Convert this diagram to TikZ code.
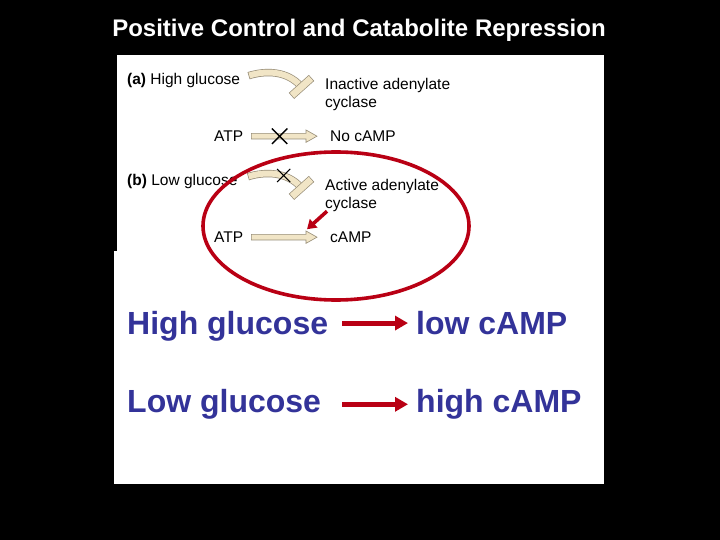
\documentclass[tikz,border=0pt]{standalone}
\usepackage{fontspec}
\setmainfont{Liberation Sans}
\usetikzlibrary{arrows.meta,calc,shapes.misc}
\definecolor{slideBlue}{RGB}{51,51,153}
\definecolor{markRed}{RGB}{185,0,20}
\definecolor{pathFill}{RGB}{241,229,198}
\definecolor{pathEdge}{RGB}{150,140,118}
\tikzset{
    txt/.style={anchor=base west,inner sep=0pt,font=\fontsize{15.5}{18}\selectfont},
    enz/.style={anchor=north west,inner sep=0pt,align=left,font=\fontsize{15.5}{18}\selectfont},
    big/.style={anchor=base west,inner sep=0pt,text=slideBlue,font=\fontsize{32}{36}\selectfont\bfseries},
    bigarr/.style={-{Triangle[length=13pt,width=14pt]},line width=5pt,draw=markRed},
    redarr/.style={-{Triangle[length=9pt,width=11pt]},line width=3.6pt,draw=markRed},
    fatshaft/.style={fill=pathFill,draw=pathEdge,line width=0.6pt,line join=miter},
    stemout/.style={draw=pathEdge,line width=7.4pt},
    stemin/.style={draw=pathFill,line width=6pt},
    xmark/.style={cross out,draw=black,inner sep=0pt,minimum size=14pt,line width=1.4pt}
}
% hollow pathway arrow between two coordinates on one line
\newcommand{\fatarrow}[2]{%
    \draw[fatshaft] let \p1=(#1), \p2=(#2) in
        (\x1,\y1+2.8pt) -- (\x2-11pt,\y1+2.8pt) -- (\x2-11pt,\y1+6.2pt) -- (\x2,\y1)
        -- (\x2-11pt,\y1-6.2pt) -- (\x2-11pt,\y1-2.8pt) -- (\x1,\y1-2.8pt) -- cycle;}
% curved stem with a blocking bar at its end
\newcommand{\inhibitor}[2]{%
    \draw[stemout,shorten <=-0.7pt] (#1) .. controls +(16,-5) and +(-14,-16) .. (#2);
    \draw[stemin] (#1) .. controls +(16,-5) and +(-14,-16) .. (#2);
    \draw[stemout,line width=8pt,shorten <=-0.7pt,shorten >=-0.7pt] ($(#2)+(-9,9)$) -- ($(#2)+(10,-8)$);
    \draw[stemin,line width=6.6pt] ($(#2)+(-9,9)$) -- ($(#2)+(10,-8)$);}

\begin{document}
\begin{tikzpicture}[x=1pt,y=-1pt]
    \useasboundingbox (0,0) rectangle (720,540);
    \fill[black] (0,0) rectangle (720,540);
    % white panels
    \fill[white] (117,55) rectangle (604,252);
    \fill[white] (114,251) rectangle (604,484);

    \node[anchor=base,inner sep=0pt,text=white,font=\fontsize{24}{28}\selectfont\bfseries] (title) at (359,36.5)
        {Positive Control and Catabolite Repression};

    % (a) high glucose
    \node[txt] (glcA) at (127,84.5) {\textbf{(a)} High glucose};
    \node[enz] (adcA) at (325,78.4) {Inactive adenylate\\cyclase};
    \node[txt] (atpA) at (214,141.5) {ATP};
    \node[txt] (campA) at (330,141.5) {No cAMP};
    % (b) low glucose
    \node[txt] (glcB) at (127,185.5) {\textbf{(b)} Low glucose};
    \node[enz] (adcB) at (325,179.4) {Active adenylate\\cyclase};
    \node[txt] (atpB) at (214,242.5) {ATP};
    \node[txt] (campB) at (330,242.5) {cAMP};

    \coordinate (stA) at ($(glcA.east)+(9,-5)$);
    \coordinate (tA)  at ($(adcA.north west)+(-24,8)$);
    \coordinate (stB) at ($(glcB.east)+(11,-5)$);
    \coordinate (tB)  at ($(adcB.north west)+(-24,8)$);
    \inhibitor{stA}{tA}
    \inhibitor{stB}{tB}

    \coordinate (fromA) at ($(atpA.east)+(8,0)$);
    \coordinate (toA)   at ($(campA.west)+(-13,0)$);
    \coordinate (fromB) at ($(atpB.east)+(8,0)$);
    \coordinate (toB)   at ($(campB.west)+(-13,0)$);
    \fatarrow{fromA}{toA}
    \fatarrow{fromB}{toB}
    \node[xmark] (xA) at ($(fromA)!0.43!(toA)$) {};
    \node[xmark,minimum size=12pt,line width=1.1pt] (xB) at ($(stB)+(35,-1)$) {};

    \draw[redarr] ($(adcB.south west)+(2,-1)$) -- ($(toB)+(-10,-8)$);
    \draw[markRed,line width=3.6pt] (336,226) ellipse [x radius=133,y radius=74];

    % summary
    \node[big] (hg) at (127,334.5) {High glucose};
    \node[big] (lc) at (416,334.5) {low cAMP};
    \node[big] (lg) at (127,412.5) {Low glucose};
    \node[big] (hc) at (416,412.5) {high cAMP};
    \draw[bigarr] ([xshift=-74pt]lc.west) -- ([xshift=-8pt]lc.west);
    \draw[bigarr] ([xshift=-74pt]hc.west) -- ([xshift=-8pt]hc.west);
\end{tikzpicture}
\end{document}
